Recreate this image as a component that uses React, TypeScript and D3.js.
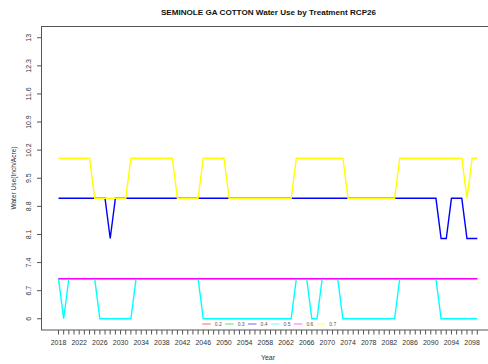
import React from "react";
import * as d3 from "d3";

const years: number[] = d3.range(2018, 2100);
const treatments = ["0.2", "0.3", "0.4", "0.5", "0.6", "0.7"];
const colors = ["#ff0000", "#00cc00", "#0000ff", "#00ffff", "#ff00ff", "#ffff00"];

const s02 = [
  7,7,7,7,7,7,7,7,7,7, 7,7,7,7,7,7,7,7,7,7, 7,7,7,7,7,7,7,7,7,7, 7,7,7,7,7,7,7,7,7,7,
  7,7,7,7,7,7,7,7,7,7, 7,7,7,7,7,7,7,7,7,7, 7,7,7,7,7,7,7,7,7,7, 7,7,7,7,7,7,7,7,7,7, 7,7,
];
const s03 = [
  7,7,7,7,7,7,7,7,7,7, 7,7,7,7,7,7,7,7,7,7, 7,7,7,7,7,7,7,7,7,7, 7,7,7,7,7,7,7,7,7,7,
  7,7,7,7,7,7,7,7,7,7, 7,7,7,7,7,7,7,7,7,7, 7,7,7,7,7,7,7,7,7,7, 7,7,7,7,7,7,7,7,7,7, 7,7,
];
const s04 = [
  9,9,9,9,9,9,9,9,9,9,
  8,9,9,9,9,9,9,9,9,9,
  9,9,9,9,9,9,9,9,9,9,
  9,9,9,9,9,9,9,9,9,9,
  9,9,9,9,9,9,9,9,9,9,
  9,9,9,9,9,9,9,9,9,9,
  9,9,9,9,9,9,9,9,9,9,
  9,9,9,9,8,8,9,9,9,8,
  8,8,
];
const s05 = [
  7,6,7,7,7,7,7,7,6,6,
  6,6,6,6,6,7,7,7,7,7,
  7,7,7,7,7,7,7,7,6,6,
  6,6,6,6,6,6,6,6,6,6,
  6,6,6,6,6,6,7,7,7,6,
  6,7,7,7,7,6,6,6,6,6,
  6,6,6,6,6,6,7,7,7,7,
  7,7,7,7,6,6,6,6,6,6,
  6,6,
];
const s06 = [
  7,7,7,7,7,7,7,7,7,7, 7,7,7,7,7,7,7,7,7,7, 7,7,7,7,7,7,7,7,7,7, 7,7,7,7,7,7,7,7,7,7,
  7,7,7,7,7,7,7,7,7,7, 7,7,7,7,7,7,7,7,7,7, 7,7,7,7,7,7,7,7,7,7, 7,7,7,7,7,7,7,7,7,7, 7,7,
];
const s07 = [
  10,10,10,10,10,10,10,9,9,9,
  9,9,9,9,10,10,10,10,10,10,
  10,10,10,9,9,9,9,9,10,10,
  10,10,10,9,9,9,9,9,9,9,
  9,9,9,9,9,9,10,10,10,10,
  10,10,10,10,10,10,9,9,9,9,
  9,9,9,9,9,9,10,10,10,10,
  10,10,10,10,10,10,10,10,10,9,
  10,10,
];
const seriesValues = [s02, s03, s04, s05, s06, s07];

const yTicks = [6, 6.7, 7.4, 8.1, 8.8, 9.5, 10.2, 10.9, 11.6, 12.3, 13];
const xTickLabels = d3.range(2018, 2100, 4);

export default function App() {
  const W = 488, H = 364;
  const left = 41.5, top = 26.5, bottom = 330, right = 495;
  const x = d3.scaleLinear().domain([2018, 2099]).range([58.5, 477.3]);
  const y = d3.scaleLinear().domain([5.72, 13.28]).range([bottom, top]);
  const line = d3.line<number>().x((_, i) => x(years[i])).y((d) => y(d));
  const font = "Liberation Sans, Arial, sans-serif";
  const legendX0 = 202.3;
  const legendStep = 22.9;
  const legendY = 324;

  return (
    <svg width={W} height={H} style={{ position: "absolute", left: 0, top: 0, background: "#fff" }} fontFamily={font}>
      <rect x={0} y={0} width={W} height={H} fill="#fff" />
      <text x={268.5} y={15} textAnchor="middle" fontSize={8.1} fontWeight="bold" fill="#111">
        SEMINOLE GA COTTON Water Use by Treatment RCP26
      </text>
      {/* plot box */}
      <rect x={left} y={top} width={right - left} height={bottom - top} fill="none" stroke="#555" strokeWidth={1} />
      {/* y axis ticks */}
      {yTicks.map((t) => (
        <g key={t}>
          <line x1={left - 4.5} x2={left} y1={y(t)} y2={y(t)} stroke="#555" />
          <text
            transform={`translate(${30.5},${y(t)}) rotate(-90)`}
            textAnchor="middle"
            fontSize={7}
            fill="#333"
          >
            {String(t)}
          </text>
        </g>
      ))}
      {/* x axis ticks */}
      {years.map((yr) => (
        <line key={yr} x1={x(yr)} x2={x(yr)} y1={bottom} y2={bottom + 4.5} stroke="#555" />
      ))}
      {xTickLabels.map((yr) => (
        <text key={yr} x={x(yr)} y={344.5} textAnchor="middle" fontSize={7} fill="#333">
          {yr}
        </text>
      ))}
      <text x={268} y={360} textAnchor="middle" fontSize={7} fill="#333">Year</text>
      <text transform={`translate(16,178) rotate(-90)`} textAnchor="middle" fontSize={6.6} fill="#333">
        Water Use(Inch/Acre)
      </text>
      {/* series */}
      {seriesValues.map((vals, i) => (
        <path key={treatments[i]} d={line(vals) || ""} fill="none" stroke={colors[i]} strokeWidth={1.4} />
      ))}
      {/* legend */}
      {treatments.map((t, i) => (
        <g key={t} transform={`translate(${legendX0 + i * legendStep},${legendY})`}>
          <line x1={0} x2={8.4} y1={0} y2={0} stroke={colors[i]} strokeWidth={1} opacity={0.6} />
          <text x={12.5} y={1.8} fontSize={5} fill="#555">{t}</text>
        </g>
      ))}
    </svg>
  );
}
